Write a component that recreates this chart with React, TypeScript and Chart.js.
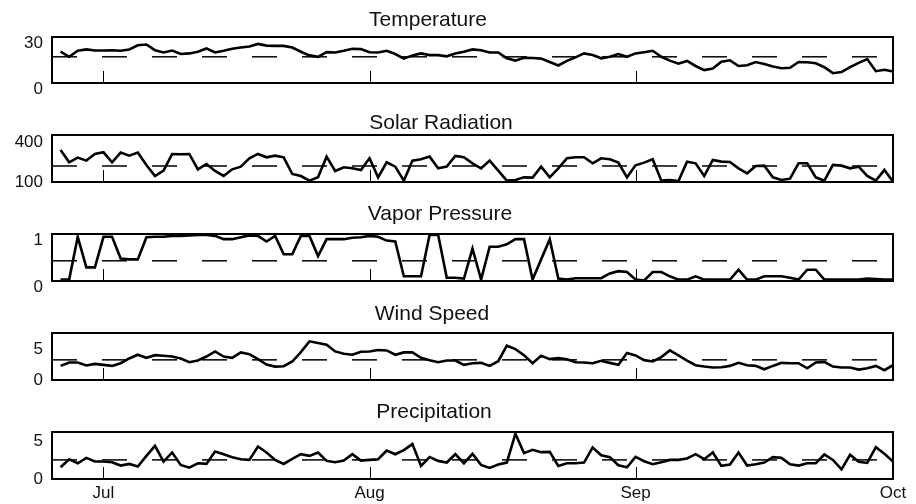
import React, { useEffect, useRef } from "react";
import { Chart, registerables } from "chart.js";

Chart.register(...registerables);

// Days are counted from 1 July; the series start on 26 June.
const FIRST_DAY = -5;
const X_MIN = -6;
const X_MAX = 92;
const monthTickDays = [0, 31, 62, 92];
const monthTickLabels = ["Jul", "Aug", "Sep", "Oct"];

const titles = ["Temperature", "Solar Radiation", "Vapor Pressure", "Wind Speed", "Precipitation"];

const temperature = [
  20.4, 17.1, 21, 21.9, 21.2, 21.2, 21.4, 21, 21.9, 24.6,
  25.1, 21.4, 19.9, 21.2, 18.9, 19.3, 20.4, 22.5, 19.9, 21,
  22.3, 23.1, 23.8, 25.5, 24.4, 24.2, 24.2, 23.1, 20.4, 18,
  17.1, 20.1, 19.9, 21, 22.3, 22.1, 20.1, 19.9, 21, 18.9,
  15.9, 18, 19.3, 18.2, 18.2, 17.4, 19.3,
  20.4, 21.9, 21.4, 19.9, 19.9, 16.1, 14.6, 16.5, 16.3, 15.9,
  13.7, 11.4, 14.4, 16.7, 19.3, 18.2, 16.1, 17.1, 18.9, 17.1,
  19.3, 20.1, 21, 17.1, 14.6, 12.6, 14.4, 11.1, 8.4, 9.4,
  13.9, 14.8, 11.1, 11.6, 13.7, 12.4, 10.7, 9.6, 9.9, 13.7,
  13.5, 12.9, 10.3, 6.4, 7.1, 10.3, 13.1, 15.6, 7.7, 8.6, 7.5,
];

const solarRadiation = [
  340, 247.5, 282.5, 260, 310, 322.5, 247.5, 320, 297.5, 320,
  227.5, 145, 185, 310, 307.5, 310, 195, 235, 182.5, 145,
  195, 215, 277.5, 310, 285, 297.5, 285, 160, 145, 110,
  135, 290, 182.5, 210, 202.5, 190, 277.5, 135, 247.5, 215,
  110, 260, 270, 290, 202.5, 215, 295,
  285, 240, 202.5, 260, 185, 110, 115, 135, 132.5, 215,
  135, 202.5, 277.5, 285, 285, 240, 277.5, 270, 245, 135,
  225, 245, 270, 110, 115, 107.5, 252.5, 240, 145, 265,
  252.5, 250, 202.5, 165, 220, 222.5, 135, 115, 125, 240,
  240, 135, 110, 227.5, 222.5, 202.5, 215, 145, 110, 190, 102.5,
];

const vaporPressure = [
  0.03, 0.03, 0.94, 0.29, 0.29, 0.94, 0.94, 0.48, 0.46, 0.46,
  0.93, 0.94, 0.94, 0.96, 0.96, 0.97, 0.98, 0.98, 0.96, 0.89,
  0.89, 0.93, 0.97, 0.96, 0.84, 0.96, 0.57, 0.57, 0.96, 0.96,
  0.53, 0.89, 0.89, 0.89, 0.92, 0.93, 0.96, 0.94, 0.86, 0.84,
  0.1, 0.1, 0.1, 0.98, 0.98, 0.07, 0.07,
  0.05, 0.69, 0.03, 0.73, 0.73, 0.78, 0.89, 0.89, 0.03, 0.46,
  0.89, 0.05, 0.03, 0.06, 0.06, 0.06, 0.06, 0.16, 0.21, 0.19,
  0.03, 0.01, 0.19, 0.19, 0.1, 0.03, 0.03, 0.1, 0.03, 0.03,
  0.03, 0.03, 0.24, 0.03, 0.03, 0.1, 0.1, 0.1, 0.07, 0.03,
  0.24, 0.24, 0.03, 0.03, 0.03, 0.03, 0.03, 0.05, 0.04, 0.03, 0.03,
];

const windSpeed = [
  2.28, 2.83, 2.83, 2.34, 2.61, 2.45, 2.28, 2.72, 3.48, 4.08,
  3.59, 4.02, 3.91, 3.8, 3.48, 2.88, 3.15, 3.8, 4.62, 3.8,
  3.59, 4.46, 4.18, 3.37, 2.5, 2.17, 2.23, 2.99, 4.51, 6.25,
  5.98, 5.71, 4.62, 4.24, 4.08, 4.57, 4.62, 4.84, 4.78, 4.08,
  4.46, 4.46, 3.59, 3.21, 2.88, 3.15, 3.15,
  2.45, 2.72, 2.77, 2.28, 3.04, 5.54, 5.0, 4.02, 2.72, 3.91,
  3.37, 3.53, 3.37, 2.88, 2.83, 2.72, 3.1, 2.77, 2.45, 4.35,
  3.97, 3.21, 2.99, 3.7, 4.78, 3.97, 3.15, 2.39, 2.17, 2.01,
  2.07, 2.28, 2.77, 2.39, 2.28, 1.74, 2.28, 2.77, 2.72, 2.72,
  1.9, 2.83, 2.93, 2.17, 2.01, 2.01, 1.68, 1.9, 2.28, 1.58, 2.39,
];

const precipitation = [
  1.55, 2.61, 2.08, 2.79, 2.3, 2.3, 2.21, 1.77, 1.99, 1.64,
  3.05, 4.38, 2.3, 3.5, 1.86, 1.5, 2.08, 1.99, 3.63, 3.27,
  2.88, 2.61, 2.52, 4.29, 3.5, 2.52, 1.99, 2.66, 3.27, 3.05,
  3.5, 2.39, 2.21, 2.43, 3.27, 2.43, 2.52, 2.61, 3.76, 3.27,
  3.81, 4.6, 1.73, 2.88, 2.39, 2.17, 3.27,
  2.08, 3.32, 1.86, 1.46, 1.9, 2.17, 5.97, 3.41, 3.85, 3.54,
  3.58, 1.73, 2.08, 2.08, 2.17, 4.16, 3.14, 2.88, 1.81, 1.55,
  2.92, 2.35, 1.95, 2.21, 2.52, 2.52, 2.7, 3.27, 2.61, 3.5,
  1.73, 1.9, 3.5, 1.77, 1.95, 2.17, 2.88, 2.79, 1.95, 1.77,
  2.08, 2.08, 3.23, 2.52, 1.28, 3.19, 2.26, 2.12, 4.2, 3.32, 2.3,
];

const series = [temperature, solarRadiation, vaporPressure, windSpeed, precipitation];
const meanLevels = [17.1, 220, 0.43, 3.26, 2.52];
const yMin = [0, 100, 0, 0, 0];
const yMax = [30, 452, 1, 7.6, 6.2];
const yTickValues = [[0, 30], [100, 400], [0, 1], [0, 5], [0, 5]];

// layout (pixels)
const boxTop = [37, 135, 234, 333, 432];
const boxBottom = [83, 182, 281, 380, 479];
const titleGap = [17, 12, 19.5, 19, 20];
const titleCenterX = [428, 441, 440, 432, 434];
const yLabelShift = [6, 0, 6.5, 0, 0];
const TOP_ZONE = 40;
const WIDTH = 916;
const FONT = "'Liberation Sans', Arial, Helvetica, sans-serif";

function Panel({ index }: { index: number }) {
  const ref = useRef<HTMLCanvasElement | null>(null);
  const isLast = index === titles.length - 1;
  const bottomPad = isLast ? 4.6 : 20;
  const xAxisH = isLast ? 28.4 : 0;
  const top = boxTop[index] - TOP_ZONE;
  const height = Math.round(TOP_ZONE + (boxBottom[index] - boxTop[index]) + bottomPad + xAxisH);

  useEffect(() => {
    if (!ref.current) return;
    const values = series[index];
    const points = values.map((v, i) => ({ x: FIRST_DAY + i, y: v }));
    const framePlugin = {
      id: "frame" + index,
      afterDatasetsDraw(chart: any) {
        const { ctx, chartArea } = chart;
        const xs = chart.scales.x;
        ctx.save();
        ctx.strokeStyle = "#000";
        ctx.lineWidth = 1;
        monthTickDays.forEach((d) => {
          const px = Math.round(xs.getPixelForValue(d)) + 0.5;
          ctx.beginPath();
          ctx.moveTo(px, chartArea.bottom);
          ctx.lineTo(px, chartArea.bottom - 12);
          ctx.stroke();
        });
        ctx.lineWidth = 2;
        ctx.strokeRect(
          chartArea.left,
          chartArea.top,
          chartArea.right - chartArea.left,
          chartArea.bottom - chartArea.top
        );
        ctx.font = `21px ${FONT}`;
        ctx.fillStyle = "#111";
        ctx.textAlign = "center";
        ctx.textBaseline = "middle";
        ctx.fillText(titles[index], titleCenterX[index], chartArea.top - titleGap[index]);
        ctx.restore();
      },
    };

    const chart = new Chart(ref.current, {
      type: "line",
      data: {
        datasets: [
          {
            data: points,
            borderColor: "#000",
            borderWidth: 2.6,
            pointRadius: 0,
            tension: 0,
            fill: false,
          },
          {
            data: [
              { x: X_MIN, y: meanLevels[index] },
              { x: X_MAX, y: meanLevels[index] },
            ],
            borderColor: "#111",
            borderWidth: 1.6,
            borderDash: [25, 25],
            pointRadius: 0,
            fill: false,
          },
        ],
      },
      options: {
        responsive: false,
        animation: false,
        devicePixelRatio: 1,
        layout: { padding: { top: TOP_ZONE, bottom: bottomPad, left: 0, right: 23 } },
        plugins: {
          legend: { display: false },
          tooltip: { enabled: false },
          title: { display: false },
        },
        scales: {
          x: {
            type: "linear",
            min: X_MIN,
            max: X_MAX,
            display: isLast,
            afterBuildTicks: (s: any) => {
              s.ticks = monthTickDays.map((v) => ({ value: v }));
            },
            grid: { display: false, drawTicks: false },
            border: { display: false },
            ticks: {
              padding: 4,
              maxRotation: 0,
              autoSkip: false,
              color: "#111",
              font: { family: FONT, size: 17 },
              callback: (v: any) => {
                const i = monthTickDays.indexOf(Number(v));
                return i >= 0 ? monthTickLabels[i] : "";
              },
            },
          },
          y: {
            type: "linear",
            min: yMin[index],
            max: yMax[index],
            afterBuildTicks: (s: any) => {
              s.ticks = yTickValues[index].map((v) => ({ value: v }));
            },
            afterFit: (s: any) => {
              s.width = 52;
            },
            grid: { display: false, drawTicks: false },
            border: { display: false },
            ticks: {
              padding: 9,
              labelOffset: yLabelShift[index],
              color: "#111",
              font: { family: FONT, size: 17 },
              callback: (v: any) => String(v),
            },
          },
        },
      } as any,
      plugins: [framePlugin],
    });
    return () => chart.destroy();
  }, [index]);

  return (
    <canvas
      ref={ref}
      width={WIDTH}
      height={height}
      style={{ position: "absolute", left: 0, top, width: WIDTH, height }}
    />
  );
}

export default function App() {
  return (
    <div
      style={{
        position: "absolute",
        left: 0,
        top: 0,
        width: WIDTH,
        height: 504,
        overflow: "hidden",
        background: "#fff",
      }}
    >
      {titles.map((t, i) => (
        <Panel key={t} index={i} />
      ))}
    </div>
  );
}
